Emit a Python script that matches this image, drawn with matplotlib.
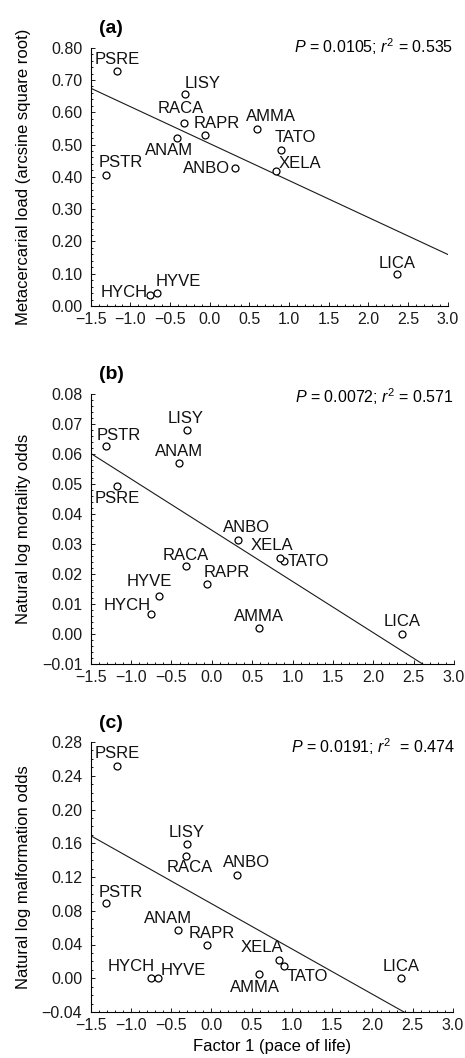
import numpy as np
import matplotlib
matplotlib.use("Agg")
import matplotlib.pyplot as plt
from matplotlib.ticker import MultipleLocator, AutoMinorLocator, FuncFormatter

plt.rcParams.update({
    "font.family": ["Liberation Sans", "DejaVu Sans"],
    "mathtext.fontset": "custom",
    "mathtext.rm": "Liberation Sans",
    "mathtext.it": "Liberation Sans:italic",
    "axes.linewidth": 0.8,
})

# species codes and factor 1 (pace of life) scores
species = ["PSRE", "PSTR", "LISY", "RACA", "ANAM", "RAPR", "AMMA",
           "TATO", "XELA", "ANBO", "HYCH", "HYVE", "LICA"]
factor1 = [-1.17, -1.31, -0.31, -0.32, -0.41, -0.06, 0.59,
           0.90, 0.84, 0.32, -0.75, -0.66, 2.36]

# (a) metacercarial load, (b) mortality odds, (c) malformation odds
load_a = [0.729, 0.407, 0.656, 0.567, 0.521, 0.529, 0.547,
          0.484, 0.418, 0.428, 0.033, 0.041, 0.098]
mort_b = [0.0494, 0.0627, 0.0681, 0.0226, 0.0569, 0.0167, 0.0019,
          0.0244, 0.0254, 0.0312, 0.0068, 0.0127, 0.0]
malf_c = [0.2516, 0.0888, 0.159, 0.145, 0.0572, 0.0394, 0.0052,
          0.0140, 0.0218, 0.122, 0.0, 0.0, 0.0]

# fitted lines (intercept, slope)
fit_a = (0.503, -0.1144)
fit_b = (0.0346, -0.01708)
fit_c = (0.0884, -0.0537)

stats = [r"$\it{P}$ = 0.0105; $\it{r}^2$ = 0.535",
         r"$\it{P}$ = 0.0072; $\it{r}^2$ = 0.571",
         r"$\it{P}$ = 0.0191; $\it{r}^2$  = 0.474"]
ylabels = ["Metacercarial load (arcsine square root)",
           "Natural log mortality odds",
           "Natural log malformation odds"]
titles = ["(a)", "(b)", "(c)"]

# label placement per panel: (ha, dx px, dy px to baseline)
lab_a = [("center", 0, 6.7), ("center", 15, 8), ("left", 0, 6), ("center", -4, 9.7),
         ("center", -7.7, -17), ("center", 12, 7), ("center", 14, 8), ("center", 14.5, 7.3),
         ("left", 2, 3), ("right", -5, -5.3), ("right", -2, -1.4), ("left", -2, 6.7),
         ("center", 0, 6)]
lab_b = [("center", 0, -17), ("center", 12.7, 6), ("center", -1.6, 6.4), ("center", 0, 6.3),
         ("center", 0, 7.6), ("left", -3.3, 7.3), ("center", 0, 7.3), ("left", 3, -5),
         ("center", -7.6, 7.7), ("center", 8.5, 8.6), ("right", -1, 3.7), ("center", -8.8, 10),
         ("center", 0, 7.6)]
lab_c = [("center", 0, 7.7), ("center", 14.4, 6.6), ("center", 0, 7.3), ("center", 4.4, -16),
         ("center", -10.3, 7.3), ("center", 5.5, 7.3), ("center", -4, -18), ("left", 2.7, -14.4),
         ("right", 4.4, 8), ("center", 9.5, 8.6), ("right", 3.7, 7), ("left", 2, 3.7),
         ("center", 0, 7.7)]

W, H = 465, 1058
fig = plt.figure(figsize=(W / 100, H / 100), dpi=100)

# axes boxes in pixels: left, right, top, bottom
boxes = [(90.7, 447.7, 47.7, 306), (90.7, 454, 394, 664), (90.7, 453, 742, 1012)]
ylims = [(0.0, 0.80), (-0.01, 0.08), (-0.04, 0.28)]
ymaj = [0.10, 0.01, 0.04]
ymin_n = [5, 5, 4]
stat_pos = [(453, 53), (453.3, 403.3), (455, 753.3)]
title_pos = [(99.3, 33.3), (99.3, 379.3), (98.7, 727.7)]
ylab_x = 31

panels = [(load_a, fit_a, lab_a), (mort_b, fit_b, lab_b), (malf_c, fit_c, lab_c)]

def fmt_minus(dec):
    return FuncFormatter(lambda v, p: f"{v:.{dec}f}".replace("-", "\u2212"))

for i, (yvals, fit, labs) in enumerate(panels):
    l, r, t, b = boxes[i]
    ax = fig.add_axes([l / W, 1 - b / H, (r - l) / W, (b - t) / H])
    ax.set_xlim(-1.5, 3.0)
    ax.set_ylim(*ylims[i])
    for s in ("top", "right"):
        ax.spines[s].set_visible(False)

    xs = np.array([-1.5, 3.0])
    ax.plot(xs, fit[0] + fit[1] * xs, color="#1a1a1a", lw=0.8, clip_on=True)
    ax.plot(factor1, yvals, "o", ms=5, mfc="white", mec="black", mew=0.9,
            clip_on=False, zorder=3)

    for name, x, y, (ha, dx, dy) in zip(species, factor1, yvals, labs):
        ax.annotate(name, (x, y), xytext=(dx * 0.72, dy * 0.72),
                    textcoords="offset points", ha=ha, va="baseline",
                    fontsize=12, color="#111111", zorder=4)

    ax.xaxis.set_major_locator(MultipleLocator(0.5))
    ax.xaxis.set_minor_locator(AutoMinorLocator(5))
    ax.yaxis.set_major_locator(MultipleLocator(ymaj[i]))
    ax.yaxis.set_minor_locator(AutoMinorLocator(ymin_n[i]))
    ax.xaxis.set_major_formatter(fmt_minus(1))
    ax.yaxis.set_major_formatter(fmt_minus(2))
    ax.tick_params(which="both", direction="in", width=0.7, labelsize=11.5,
                   colors="#1a1a1a")
    ax.tick_params(which="major", length=3)
    ax.tick_params(axis="x", which="major", pad=4)
    ax.tick_params(axis="y", which="major", pad=6)
    ax.tick_params(which="minor", length=1.5)

    ax.set_ylabel(ylabels[i], fontsize=12)
    ax.yaxis.set_label_coords((ylab_x - l) / (r - l), 0.5)

    sx, sy = stat_pos[i]
    fig.text(sx / W, 1 - sy / H, stats[i], ha="right", va="baseline", fontsize=11.5)
    tx, ty = title_pos[i]
    fig.text(tx / W, 1 - ty / H, titles[i], ha="left", va="baseline",
             fontsize=14, fontweight="bold")

    if i == 2:
        ax.set_xlabel("Factor 1 (pace of life)", fontsize=12, labelpad=5)

fig.savefig("out.png", dpi=100)
